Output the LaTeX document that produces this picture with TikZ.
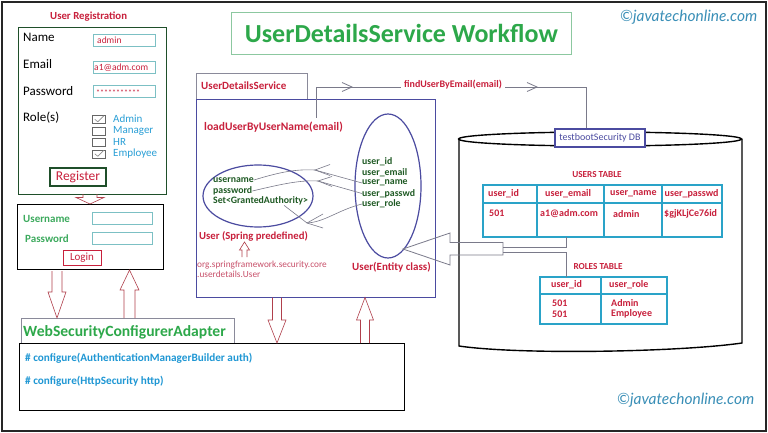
\documentclass[tikz,border=0pt]{standalone}
\usepackage{fontspec}
\setmainfont{Carlito}
\newfontfamily\wmfont{Lato}
\usetikzlibrary{calc,shapes.geometric}
\definecolor{udred}{HTML}{C8203C}
\definecolor{ttlgreen}{HTML}{2DA84A}
\definecolor{dkgreen}{HTML}{1F5A24}
\definecolor{regbox}{HTML}{1F4F2A}
\definecolor{lblue}{HTML}{2A9FD6}
\definecolor{indigo}{HTML}{4B4BA0}
\definecolor{tblc}{HTML}{2AA3C8}
\definecolor{fieldc}{HTML}{7CC0C4}
\definecolor{lgreen}{HTML}{3DAA5E}
\definecolor{arrred}{HTML}{B0404C}
\definecolor{mapgray}{HTML}{7A7A8A}
\definecolor{wmblue}{HTML}{3A8FB7}
\definecolor{titlebox}{HTML}{8CC8A0}
\definecolor{tabgray}{HTML}{8A8A9A}
\definecolor{cfgblue}{HTML}{1F97D4}
\definecolor{orgred}{HTML}{C8506A}
\newcommand\fsz[1]{\fontsize{#1}{#1}\selectfont}
\newcommand\blkarrow[6]{\draw[blk] (#1-#5,#2) -- (#1-#5,#3) -- (#1-#6,#3) -- (#1,#4) -- (#1+#6,#3) -- (#1+#5,#3) -- (#1+#5,#2);}
\begin{document}
\begin{tikzpicture}[x=1pt,y=-1pt,
  txt/.style={inner sep=0pt, anchor=west},
  box/.style={draw, inner sep=0pt, anchor=north west},
  field/.style={box, draw=fieldc, line width=0.8pt, minimum width=62pt, minimum height=12pt},
  fieldtxt/.style={txt, font=\fsz{9.5}, text=udred},
  formlbl/.style={txt, font=\fsz{13}},
  chkbox/.style={box, draw=black!60, line width=0.6pt, minimum width=13pt, minimum height=8pt},
  chk/.style={draw=black!45, line width=0.6pt},
  rolelbl/.style={txt, font=\fsz{11}, text=lblue},
  redb/.style={txt, font=\bfseries\fsz{11}, text=udred},
  ellt/.style={txt, font=\bfseries\fsz{9.8}, text=dkgreen},
  tbltxt/.style={txt, font=\bfseries\fsz{10}, text=udred},
  tbl/.style={draw=tblc, line width=1.3pt},
  blk/.style={draw=arrred, line width=0.6pt},
  map/.style={draw=mapgray, line width=0.6pt},
  wm/.style={txt, font=\wmfont\itshape\fsz{15.5}, text=wmblue}]
\useasboundingbox (0,0) rectangle (768,433);
\fill[white] (0,0) rectangle (768,433);
\draw[line width=1.6pt, black!85] (2,2) rectangle (766,431);

% title
\node[box, draw=titlebox, line width=0.8pt, minimum width=340pt, minimum height=42pt] (titlebox) at (231,12) {};
\node[font=\bfseries\fsz{26}, text=ttlgreen, inner sep=0pt] (title) at (titlebox.center) {UserDetailsService Workflow};
\node[wm] (wm1) at (620,17) {©javatechonline.com};
\node[wm] (wm2) at (617,400) {©javatechonline.com};

% registration
\node[txt, font=\bfseries\fsz{10.8}, text=udred] (regttl) at (50,17) {User Registration};
\node[box, draw=regbox, line width=1.4pt, minimum width=148pt, minimum height=167pt] (reg) at (18,27) {};
\node[formlbl] (lname) at (23,37) {Name};
\node[formlbl] (lmail) at (23,64) {Email};
\node[formlbl] (lpass) at (23,91) {Password};
\node[formlbl] (lrole) at (23,118) {Role(s)};
\node[field] (fname) at (93,34) {};
\node[field] (fmail) at (93,61) {};
\node[field] (fpass) at (93,85) {};
\node[fieldtxt] (vname) at ($(fname.west)+(4,0)$) {admin};
\node[fieldtxt] (vmail) at ($(fmail.west)+(1,0.5)$) {a1@adm.com};
\node[fieldtxt, font=\fsz{8}] (vpass) at ($(fpass.west)+(3,1.5)$) {***********};
\node[chkbox] (cb1) at (92,115) {};
\node[chkbox] (cb2) at (92,127) {};
\node[chkbox] (cb3) at (92,138) {};
\node[chkbox] (cb4) at (92,149.5) {};
\draw[chk] ($(cb1.center)+(-4,0)$) -- ++(3,2.5) -- ++(6,-6);
\draw[chk] ($(cb4.center)+(-4,0)$) -- ++(3,2.5) -- ++(6,-6);
\node[rolelbl] (r1) at (113,119) {Admin};
\node[rolelbl] (r2) at (113,131) {Manager};
\node[rolelbl] (r3) at (113,142) {HR};
\node[rolelbl] (r4) at (113,153.5) {Employee};
\node[draw=regbox, line width=1.4pt, minimum width=56pt, minimum height=18pt, inner sep=0pt, text=udred, font=\fsz{13.5}] (regbtn) at (78,177) {Register};

% login
\node[box, draw=black, line width=1.4pt, minimum width=146pt, minimum height=65pt] (login) at (17,204) {};
\node[txt, font=\bfseries\fsz{11}, text=lgreen] (luser) at (23,219) {Username};
\node[txt, font=\bfseries\fsz{11}, text=lgreen] (lpw) at (25,239) {Password};
\node[field, minimum width=60pt] (fuser) at (92,212) {};
\node[field, minimum width=60pt] (fpw) at (92,232) {};
\node[draw=udred, line width=1pt, minimum width=38pt, minimum height=15pt, inner sep=0pt, text=udred, font=\fsz{11}] (loginbtn) at (82,257.5) {Login};

% web security configurer
\node[box, draw=tabgray, line width=0.6pt, minimum width=213pt, minimum height=25pt] (wstab) at (21,318) {};
\node[txt, font=\bfseries\fsz{15.6}, text=ttlgreen] (wsttl) at (23,332) {WebSecurityConfigurerAdapter};
\node[box, draw=black, line width=1.4pt, minimum width=385pt, minimum height=67pt, fill=white] (cfg) at (19,343) {};
\node[txt, font=\bfseries\fsz{11.2}, text=cfgblue] (cfg1) at (25,358) {\# configure(AuthenticationManagerBuilder auth)};
\node[txt, font=\bfseries\fsz{11.2}, text=cfgblue] (cfg2) at (25,381) {\# configure(HttpSecurity http)};

% user details service
\node[box, draw=tabgray, line width=0.6pt, minimum width=111pt, minimum height=26pt] (udstab) at (196,73) {};
\node[redb] (udsttl) at (201,86) {UserDetailsService};
\node[box, draw=indigo, line width=1.4pt, minimum width=239pt, minimum height=198pt, fill=white] (uds) at (196,99) {};
\node[txt, font=\bfseries\fsz{11.5}, text=udred] (load) at (204,127) {loadUserByUserName(email)};
\node[draw=indigo, line width=1.2pt, ellipse, minimum width=66pt, minimum height=144pt, inner sep=0pt] (ent) at (388,186) {};
\node[draw=indigo, line width=1.2pt, ellipse, minimum width=110pt, minimum height=62pt, inner sep=0pt] (spr) at (258,196) {};
\node[ellt] (sname) at (213,180) {username};
\node[ellt] (spass) at (213,191) {password};
\node[ellt] (sset) at (213,201) {Set<GrantedAuthority>};
\node[ellt] (uid) at (362,162) {user\_id};
\node[ellt] (umail) at (362,172.5) {user\_email};
\node[ellt] (uname) at (362,183) {user\_name};
\node[ellt] (upass) at (362,193.5) {user\_passwd};
\node[ellt] (urole) at (362,204) {user\_role};
\coordinate (t1) at (315,170);
\coordinate (t2) at (318,181);
\coordinate (t3) at (307,223);
\draw[map] (sname.east) .. controls (280,172) and (296,169) .. (t1) -- (uname.west);
\draw[map] ($(t1)+(15,-5.5)$) -- (t1) -- ($(t1)+(15,5.5)$);
\draw[map] (spass.east) .. controls (282,184) and (300,180) .. (t2) -- (upass.west);
\draw[map] ($(t2)+(14,-4.5)$) -- (t2) -- ($(t2)+(14,5.5)$);
\draw[map] (urole.west) .. controls (338,210) and (325,222) .. (t3);
\draw[map] (t3) -- ($(sset.south east)+(-24,0)$);
\draw[map] ($(t3)+(16,-9)$) -- (t3) -- ($(t3)+(16,5)$);
\node[txt, font=\bfseries\fsz{10.7}, text=udred] (sprttl) at (199,236) {User (Spring predefined)};
\node[txt, font=\fsz{9.3}, text=orgred] (org1) at (197,265) {org.springframework.security.core};
\node[txt, font=\fsz{9.3}, text=orgred] (org2) at (197,274) {.userdetails.User};
\node[txt, font=\bfseries\fsz{11}, text=udred] (entttl) at (352,267) {User(Entity class)};
\blkarrow{244.5}{257}{250}{242}{2.5}{5}

% database
\draw[line width=1.4pt] (459,139) -- (459,346) .. controls (520,355) and (680,352) .. (742,343) -- (742,139);
\draw[line width=1.4pt] (600,139) ellipse [x radius=141.5pt, y radius=7pt];
\node[draw=indigo, line width=1.2pt, fill=white, minimum width=90pt, minimum height=18pt, inner sep=0pt, text=indigo, font=\fsz{10}] (dblbl) at (600,138) {testbootSecurity DB};
\node[font=\bfseries\fsz{9.2}, text=udred, inner sep=0pt] (usersttl) at (597,175) {USERS TABLE};
\draw[tbl] (483,185) rectangle (722,237);
\draw[tbl] (483,203) -- (722,203);
\draw[tbl] (537,185) -- (537,237) (604,185) -- (604,237) (662,185) -- (662,237);
\node[tbltxt] (h1) at (488,194) {user\_id};
\node[tbltxt] (h2) at (545,194) {user\_email};
\node[tbltxt] (h3) at (610,194) {user\_name};
\node[tbltxt] (h4) at (664.5,194) {user\_passwd};
\node[tbltxt] (d1) at (489,213) {501};
\node[tbltxt] (d2) at (540,214) {a1@adm.com};
\node[tbltxt] (d3) at (613,214) {admin};
\node[tbltxt] (d4) at (664,214) {\$gjKLjCe76id};
\node[font=\bfseries\fsz{9.2}, text=udred, inner sep=0pt] (rolesttl) at (598,267) {ROLES TABLE};
\draw[tbl] (540,277) rectangle (667,324);
\draw[tbl] (540,294) -- (667,294) (601,277) -- (601,324);
\node[tbltxt] (rh1) at (551,285) {user\_id};
\node[tbltxt] (rh2) at (609,285) {user\_role};
\node[tbltxt] (rd1) at (552,303) {501};
\node[tbltxt] (rd2) at (552,314) {501};
\node[tbltxt] (rd3) at (611,303) {Admin};
\node[tbltxt] (rd4) at (611,314) {Employee};

% DB -> entity big arrow
\coordinate (tip) at (403,249);
\draw[map, line width=0.8pt] (tip) -- (450,233) -- (450,242.5) -- (503,242.5) -- (503,255) -- (450,255) -- (450,265) -- cycle;
\draw[map, line width=0.8pt] (503,247) -| (566,237);
\draw[map, line width=0.8pt] (503,252) -| (566,277);

% findUserByEmail connector
\draw[map, line width=0.8pt] (316,0 |- load.north) ++(0,-4) |- (586,87) -- (586,0 |- dblbl.north);
\draw[map, line width=0.8pt] (342,82.5) -- (352,87) -- (342,91.5);
\draw[map, line width=0.8pt] (527,82.5) -- (537,87) -- (527,91.5);
\node[font=\bfseries\fsz{10}, text=udred, fill=white, inner sep=3pt] (find) at (453,85) {findUserByEmail(email)};

% block arrows
\blkarrow{90}{194}{197.5}{204}{7}{14}
\blkarrow{57}{271}{292}{318}{5}{9}
\blkarrow{129.5}{318}{290}{270}{5.5}{9.5}
\blkarrow{277}{297.5}{320}{343}{4.5}{9}
\blkarrow{365}{343}{320}{297.5}{4.5}{8.5}
\end{tikzpicture}
\end{document}
